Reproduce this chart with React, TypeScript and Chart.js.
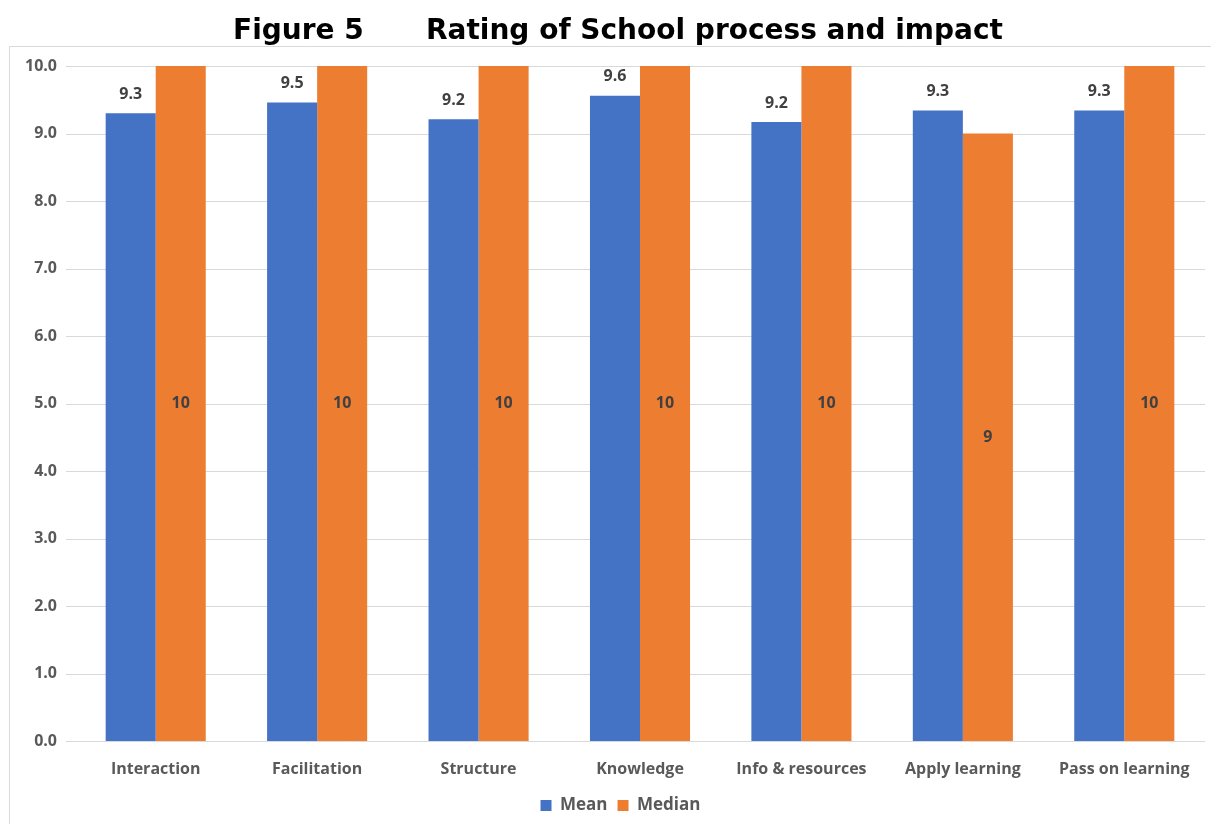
import { useEffect, useRef } from "react";
import { Chart, registerables } from "chart.js";

Chart.register(...registerables);

const categories = [
  "Interaction",
  "Facilitation",
  "Structure",
  "Knowledge",
  "Info & resources",
  "Apply learning",
  "Pass on learning",
];
const meanValues = [9.3, 9.46, 9.21, 9.56, 9.17, 9.34, 9.34];
const medianValues = [10, 10, 10, 10, 10, 9, 10];
const yTickValues = [0, 1, 2, 3, 4, 5, 6, 7, 8, 9, 10];
const titleLeft = "Figure 5";
const titleRight = "Rating of School process and impact";

const LABEL_FONT = '"Open Sans", "Noto Sans", sans-serif';

const decor = {
  id: "decor",
  afterLayout(chart: any) {
    const lg = chart.legend;
    if (lg) {
      lg.left += 18;
      lg.right += 18;
    }
  },
  beforeDatasetsDraw(chart: any) {
    const { ctx, chartArea, scales } = chart;
    const y = scales.y;
    ctx.save();
    ctx.strokeStyle = "#d9d9d9";
    ctx.lineWidth = 1;
    for (const t of yTickValues) {
      const py = Math.round(y.getPixelForValue(t)) + 0.5;
      ctx.beginPath();
      ctx.moveTo(66, py);
      ctx.lineTo(chartArea.right, py);
      ctx.stroke();
    }
    ctx.restore();
  },
  afterDraw(chart: any) {
    const { ctx } = chart;
    ctx.save();
    ctx.strokeStyle = "#d9d9d9";
    ctx.lineWidth = 1;
    ctx.beginPath();
    ctx.moveTo(9.5, chart.height);
    ctx.lineTo(9.5, 46.5);
    ctx.lineTo(chart.width, 46.5);
    ctx.stroke();
    ctx.fillStyle = "#000000";
    ctx.font = 'bold 28px "DejaVu Sans", sans-serif';
    ctx.textBaseline = "alphabetic";
    ctx.textAlign = "left";
    ctx.fillText(titleLeft, 233, 39);
    ctx.fillText(titleRight, 426, 39);
    ctx.font = `bold 16px ${LABEL_FONT}`;
    ctx.fillStyle = "#404040";
    ctx.textAlign = "center";
    ctx.textBaseline = "middle";
    const m0 = chart.getDatasetMeta(0);
    m0.data.forEach((bar: any, i: number) => {
      ctx.fillText(meanValues[i].toFixed(1), bar.x, bar.y - 19);
    });
    const m1 = chart.getDatasetMeta(1);
    m1.data.forEach((bar: any, i: number) => {
      ctx.fillText(String(medianValues[i]), bar.x, (bar.y + bar.base) / 2);
    });
    ctx.restore();
  },
};

export default function App() {
  const ref = useRef<HTMLCanvasElement>(null);
  useEffect(() => {
    if (!ref.current) return;
    const chart = new Chart(ref.current, {
      type: "bar",
      data: {
        labels: categories,
        datasets: [
          {
            label: "Mean",
            data: meanValues,
            backgroundColor: "#4472C4",
            barPercentage: 1,
            categoryPercentage: 0.62,
          },
          {
            label: "Median",
            data: medianValues,
            backgroundColor: "#ED7D31",
            barPercentage: 1,
            categoryPercentage: 0.62,
          },
        ],
      },
      options: {
        animation: false,
        responsive: false,
        maintainAspectRatio: false,
        layout: { padding: { top: 66, right: 6, left: 0, bottom: 0 } },
        plugins: {
          title: { display: false },
          tooltip: { enabled: false },
          legend: {
            position: "bottom",
            labels: {
              boxWidth: 11,
              boxHeight: 11,
              padding: 10,
              color: "#595959",
              font: { family: LABEL_FONT, size: 17, weight: "bold" },
            },
          },
        },
        scales: {
          x: {
            grid: { display: false },
            border: { display: false },
            ticks: {
              color: "#595959",
              padding: 11,
              font: { family: LABEL_FONT, size: 16, weight: "bold" },
            },
            afterFit(scale: any) {
              scale.height = 46;
            },
          },
          y: {
            min: 0,
            max: 10,
            grid: { display: false },
            border: { display: false },
            afterBuildTicks(scale: any) {
              scale.ticks = yTickValues.map((v) => ({ value: v }));
            },
            ticks: {
              color: "#595959",
              padding: 10,
              font: { family: LABEL_FONT, size: 16, weight: "bold" },
              callback: (v: any) => Number(v).toFixed(1),
            },
            afterFit(scale: any) {
              scale.width = 75;
            },
          },
        },
      },
      plugins: [decor],
    });
    return () => chart.destroy();
  }, []);
  return (
    <div style={{ position: "fixed", left: 0, top: 0, width: 1211, height: 824, background: "#fff" }}>
      <canvas ref={ref} width={1211} height={824} style={{ width: 1211, height: 824 }} />
    </div>
  );
}
